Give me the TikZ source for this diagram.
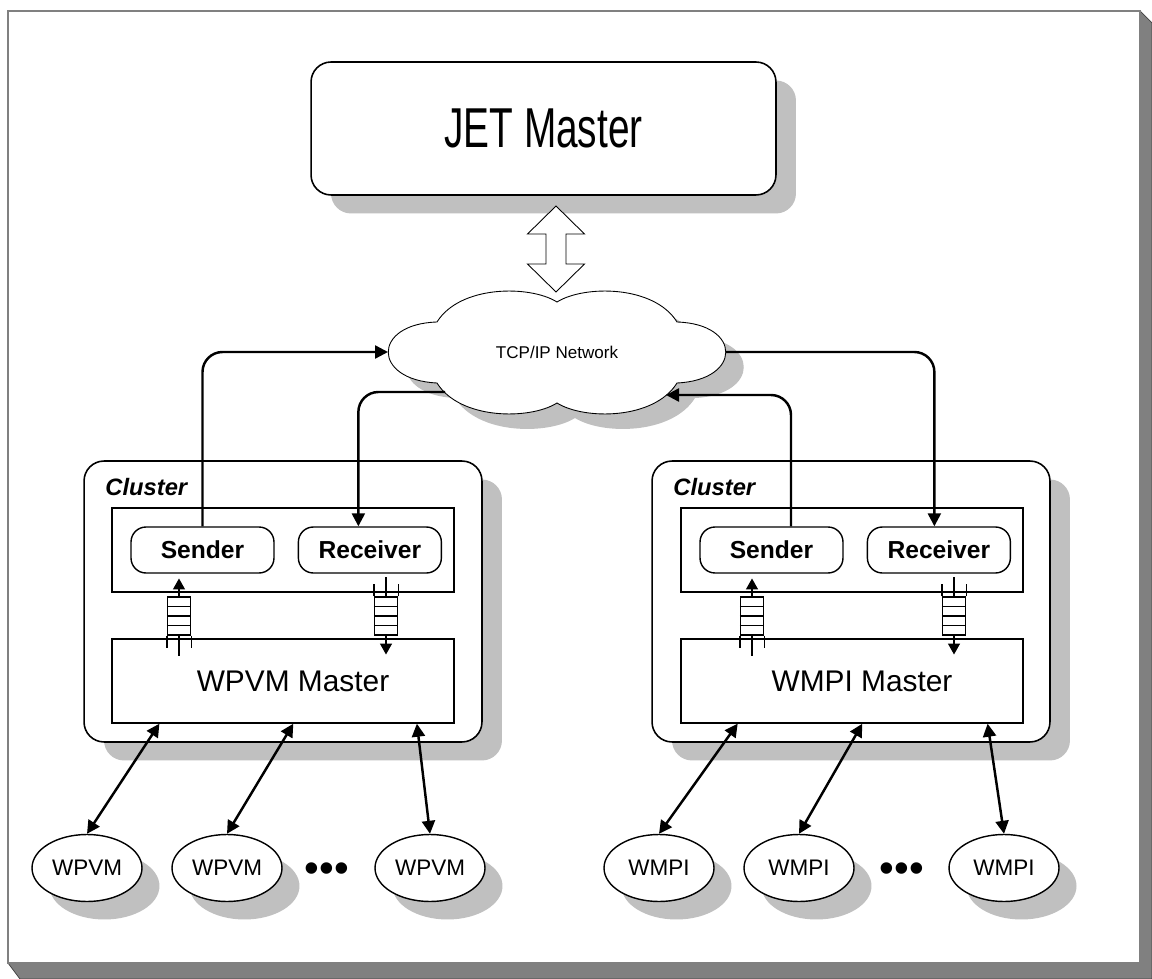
\documentclass[tikz,border=0pt]{standalone}
\usepackage{fontspec}
\setmainfont{Liberation Sans}
\usepackage{graphicx}
\usetikzlibrary{arrows.meta,positioning,shapes.geometric,shadows,calc}
\definecolor{shgrey}{HTML}{C0C0C0}
\definecolor{frgrey}{HTML}{808080}
\tikzset{
  shade/.style={drop shadow={shadow xshift=0.4cm,shadow yshift=-0.37cm,opacity=1,fill=shgrey}},
  jetbox/.style={draw,line width=0.9pt,fill=white,rounded corners=0.4cm,
                 minimum width=9.3cm,minimum height=2.66cm,shade},
  clbox/.style={draw,line width=0.9pt,fill=white,rounded corners=0.4cm,
                minimum width=7.96cm,minimum height=5.62cm,shade},
  inbox/.style={draw,line width=0.8pt,fill=white,minimum width=6.84cm,minimum height=1.68cm},
  proc/.style={draw,line width=0.8pt,fill=white,rounded corners=0.3cm,
               minimum width=2.86cm,minimum height=0.92cm,inner sep=0pt,
               font=\fontsize{14}{16}\selectfont\bfseries},
  leaf/.style={draw,ellipse,line width=0.8pt,fill=white,minimum width=2.2cm,
               minimum height=1.34cm,inner sep=0pt,font=\fontsize{12.8}{14}\selectfont,
               drop shadow={shadow xshift=0.35cm,shadow yshift=-0.36cm,opacity=1,fill=shgrey}},
  netcloud/.pic={
    \path[pic actions] (0,-50) .. controls (27,-67) and (97,-67) .. (120,-30)
      .. controls (185,-28) and (185,28) .. (120,31)
      .. controls (97,68) and (27,68) .. (0,51)
      .. controls (-27,68) and (-97,68) .. (-120,31)
      .. controls (-185,28) and (-185,-28) .. (-120,-30)
      .. controls (-97,-67) and (-27,-67) .. (0,-50) -- cycle;
  },
  fifo/.style={draw,line width=0.6pt,minimum width=0.46cm,minimum height=0.76cm,inner sep=0pt},
  qline/.style={line width=0.6pt},
  ar/.style={-{Triangle[length=0.26cm,width=0.26cm]},line width=1.4pt,rounded corners=0.4cm},
  dar/.style={{Triangle[length=0.26cm,width=0.26cm]}-{Triangle[length=0.26cm,width=0.26cm]},line width=1.4pt},
  qar/.style={-{Triangle[length=0.22cm,width=0.24cm]},line width=0.8pt},
  mtext/.style={font=\fontsize{17}{19}\selectfont},
  cltext/.style={anchor=west,font=\fontsize{13.5}{15}\selectfont\bfseries\itshape},
}

\begin{document}
\begin{tikzpicture}[x=0.02cm,y=-0.02cm]
  \useasboundingbox (0,0) rectangle (1152,979);
  % page frame
  \filldraw[fill=frgrey,draw=black!75,line width=0.4pt]
    (1140,11) -- (1152,23) -- (1152,979) -- (20,979) -- (8,963) -- (1140,963) -- cycle;
  \draw[frgrey,fill=white,line width=1pt] (8,11) rectangle (1140,963);

  % master
  \node[jetbox,font=\fontsize{32}{36}\selectfont] (jet) at (543.5,128.5)
    {\scalebox{0.69}[1]{JET Master}};
  \coordinate (dt) at (556,206);
  \draw[line width=0.5pt,fill=white] (dt) -- ++(28.5,28) -- ++(-18.5,0) -- ++(0,30)
    -- ++(18.5,0) -- ++(-28.5,28) -- ++(-28.5,-28) -- ++(18.5,0) -- ++(0,-30)
    -- ++(-18.5,0) -- cycle;

  % clusters
  \node[clbox] (lcl) at (283,601.5) {};
  \node[cltext] at ([xshift=0.32cm,yshift=-0.54cm]lcl.north west) {Cluster};
  \node[inbox] (lin) at (283,550) {};
  \node[proc] (lsnd) at (202.5,550) {Sender};
  \node[proc,right=0.46cm of lsnd] (lrcv) {Receiver};
  \node[inbox] (lmst) at (283,681) {};
  \node[mtext] at ([xshift=0.2cm]lmst.center) {WPVM Master};

  \node[clbox] (rcl) at (851,601.5) {};
  \node[cltext] at ([xshift=0.32cm,yshift=-0.54cm]rcl.north west) {Cluster};
  \node[inbox] (rin) at (852,550) {};
  \node[proc] (rsnd) at (771.5,550) {Sender};
  \node[proc,right=0.46cm of rsnd] (rrcv) {Receiver};
  \node[inbox] (rmst) at (852,681) {};
  \node[mtext] at ([xshift=0.2cm]rmst.center) {WMPI Master};

  % queues
  \node[fifo] (lsq) at (179,616) {};
  \node[fifo] (lrq) at (386,616) {};
  \node[fifo] (rsq) at (752,616) {};
  \node[fifo] (rrq) at (954,616) {};
  \foreach \q in {lsq,lrq,rsq,rrq}
    \foreach \f in {0.25,0.5,0.75}
      \draw[qline] ($(\q.north west)!\f!(\q.south west)$) -- ($(\q.north east)!\f!(\q.south east)$);
  \foreach \q in {lsq,rsq}{
    \draw[qline] (\q.south west) -- ++(0,12) (\q.south east) -- ++(0,12) (\q.south) -- ++(0,20);
    \draw[qar] (\q.north) -- ++(0,-18);
  }
  \foreach \q in {lrq,rrq}{
    \draw[qline] (\q.north west) -- ++(0,-12) (\q.north east) -- ++(0,-12) (\q.north) -- ++(0,-19);
    \draw[qar] (\q.south) -- ++(0,19);
  }

  % network
  \pic[fill=shgrey] at (575,367) {netcloud};
  \pic[draw,line width=0.5pt,fill=white] at (557,352) {netcloud};
  \node[font=\fontsize{9.7}{11}\selectfont] (net) at (557,352) {TCP/IP Network};
  \coordinate (netw) at (388,352);
  \coordinate (nete) at (726,352);
  \coordinate (netsw) at (445,392);
  \coordinate (netse) at (666,395);
  \draw[ar] (lsnd.north) |- (netw);
  \draw[ar] (netsw) -| ([xshift=-0.23cm]lrcv.north);
  \draw[ar] ([xshift=0.39cm]rsnd.north) |- (netse);
  \draw[ar] (nete) -| ([xshift=-0.09cm]rrcv.north);

  % workers
  \foreach \n/\x in {lw1/87,lw2/227,lw3/430}
    \node[leaf] (\n) at (\x,868) {WPVM};
  \foreach \n/\x in {rw1/659,rw2/799,rw3/1004}
    \node[leaf] (\n) at (\x,868) {WMPI};
  \node[font=\fontsize{24}{24}\selectfont] (ldots) at (327,873) {\textbullet\textbullet\textbullet};
  \node[font=\fontsize{24}{24}\selectfont] (rdots) at (902,873) {\textbullet\textbullet\textbullet};
  \foreach \t/\n in {0.14/lw1,0.53/lw2,0.89/lw3}
    \draw[dar] ($(lmst.south west)!\t!(lmst.south east)$) -- (\n.north);
  \foreach \t/\n in {0.167/rw1,0.53/rw2,0.895/rw3}
    \draw[dar] ($(rmst.south west)!\t!(rmst.south east)$) -- (\n.north);
\end{tikzpicture}
\end{document}
